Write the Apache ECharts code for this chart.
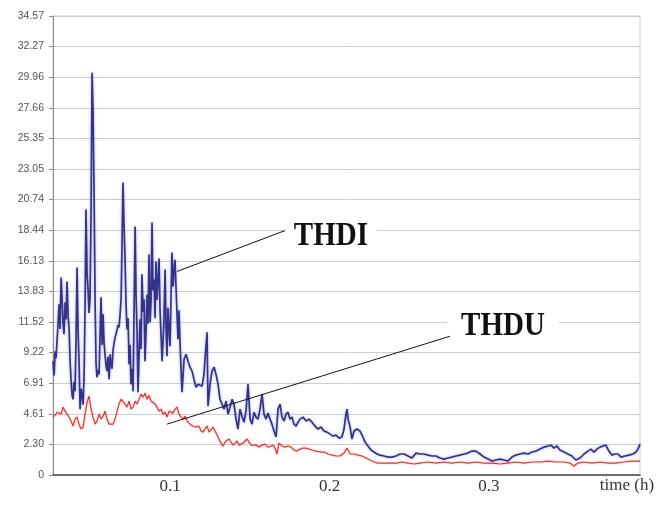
<!DOCTYPE html>
<html>
<head>
<meta charset="utf-8">
<script src="https://cdn.jsdelivr.net/npm/echarts@6/dist/echarts.min.js"></script>
<style>html,body{margin:0;padding:0;background:#fff}#c{width:668px;height:522px}</style>
</head>
<body>
<div id="c"></div>
<script>
// ---- data ----
const thdiTime = [0.0266,0.0273,0.0279,0.0285,0.0292,0.0298,0.0304,0.0310,0.0317,0.0323,0.0329,0.0335,0.0342,0.0348,0.0354,0.0361,0.0367,0.0373,0.0379,0.0386,0.0392,0.0398,0.0404,0.0411,0.0417,0.0423,0.0429,0.0436,0.0442,0.0448,0.0455,0.0461,0.0467,0.0473,0.0480,0.0486,0.0492,0.0498,0.0505,0.0511,0.0517,0.0524,0.0530,0.0536,0.0542,0.0549,0.0555,0.0561,0.0567,0.0574,0.0580,0.0586,0.0592,0.0599,0.0605,0.0611,0.0618,0.0624,0.0630,0.0636,0.0643,0.0649,0.0655,0.0661,0.0668,0.0674,0.0680,0.0686,0.0693,0.0699,0.0705,0.0711,0.0718,0.0724,0.0730,0.0737,0.0743,0.0749,0.0755,0.0762,0.0768,0.0774,0.0781,0.0787,0.0793,0.0799,0.0806,0.0812,0.0818,0.0824,0.0831,0.0837,0.0843,0.0850,0.0856,0.0862,0.0868,0.0875,0.0881,0.0887,0.0893,0.0900,0.0906,0.0912,0.0918,0.0925,0.0931,0.0937,0.0944,0.0950,0.0956,0.0962,0.0969,0.0975,0.0981,0.0987,0.0994,0.1000,0.1006,0.1012,0.1019,0.1025,0.1031,0.1038,0.1044,0.1050,0.1056,0.1063,0.1069,0.1075,0.1088,0.1100,0.1113,0.1125,0.1138,0.1150,0.1163,0.1176,0.1188,0.1201,0.1213,0.1219,0.1232,0.1238,0.1251,0.1263,0.1276,0.1288,0.1301,0.1313,0.1326,0.1339,0.1351,0.1364,0.1376,0.1389,0.1401,0.1414,0.1426,0.1439,0.1451,0.1464,0.1476,0.1489,0.1502,0.1514,0.1527,0.1539,0.1552,0.1564,0.1577,0.1589,0.1602,0.1614,0.1627,0.1639,0.1652,0.1665,0.1677,0.1690,0.1702,0.1715,0.1727,0.1740,0.1752,0.1765,0.1777,0.1790,0.1803,0.1815,0.1834,0.1853,0.1871,0.1890,0.1909,0.1928,0.1947,0.1965,0.1984,0.2003,0.2022,0.2041,0.2060,0.2078,0.2091,0.2103,0.2110,0.2116,0.2128,0.2141,0.2154,0.2172,0.2191,0.2204,0.2223,0.2241,0.2260,0.2279,0.2298,0.2317,0.2342,0.2367,0.2392,0.2417,0.2442,0.2467,0.2492,0.2517,0.2542,0.2567,0.2592,0.2618,0.2643,0.2668,0.2693,0.2718,0.2743,0.2768,0.2793,0.2818,0.2843,0.2868,0.2893,0.2918,0.2944,0.2969,0.2994,0.3019,0.3044,0.3069,0.3094,0.3119,0.3144,0.3169,0.3194,0.3219,0.3245,0.3270,0.3295,0.3320,0.3345,0.3370,0.3389,0.3408,0.3426,0.3445,0.3470,0.3495,0.3520,0.3545,0.3571,0.3596,0.3621,0.3639,0.3658,0.3677,0.3696,0.3715,0.3733,0.3752,0.3771,0.3790,0.3809,0.3828,0.3853,0.3878,0.3903,0.3922,0.3934,0.3947];
const thdiValues = [8.57,7.50,9.32,8.80,10.22,11.50,12.85,11.00,14.88,13.23,11.40,10.60,13.00,11.72,14.58,12.00,10.97,8.60,7.21,6.00,5.71,7.00,6.31,10.50,15.63,11.00,8.72,4.96,6.50,6.09,5.30,7.59,12.50,19.99,15.00,13.98,12.20,13.23,20.00,30.29,27.50,20.74,13.00,8.34,7.36,7.90,7.59,10.50,13.38,9.80,12.10,10.00,9.09,8.20,7.82,8.90,7.21,9.10,8.34,8.00,9.47,9.90,10.37,10.60,10.97,11.30,11.12,12.00,13.23,17.50,22.02,19.00,16.23,12.80,10.97,11.80,8.34,9.80,6.84,8.00,6.31,12.00,18.71,13.50,10.97,6.24,9.20,11.72,9.50,15.11,12.30,13.23,8.57,11.00,13.60,11.40,16.61,11.50,13.23,19.01,13.90,14.73,11.80,16.08,13.20,14.73,16.30,12.47,10.40,8.57,10.10,11.72,15.48,11.00,8.94,12.60,10.97,9.70,13.23,16.76,14.20,15.48,16.20,13.98,12.00,10.22,12.40,9.84,8.00,6.24,8.72,9.09,8.57,8.12,7.82,7.21,6.61,6.84,6.99,6.69,7.59,8.72,10.75,5.19,6.84,7.82,8.12,7.59,6.84,5.71,5.34,4.96,5.56,4.58,5.11,5.71,5.34,4.21,3.46,4.96,4.43,3.98,4.81,6.84,4.21,3.83,4.73,4.36,4.21,4.96,6.09,4.58,4.21,4.66,4.21,3.83,3.31,2.86,4.96,5.34,4.36,4.06,4.58,4.73,4.21,4.36,3.83,3.68,3.98,4.21,4.36,4.06,4.21,3.98,3.68,3.46,3.61,3.31,3.23,3.08,2.93,3.01,2.78,2.86,3.46,4.58,4.96,4.21,3.68,2.71,3.31,3.46,3.31,3.01,2.48,2.18,1.88,1.73,1.58,1.50,1.43,1.35,1.35,1.43,1.58,1.58,1.43,1.28,1.65,1.58,1.58,1.50,1.43,1.43,1.28,1.20,1.28,1.35,1.43,1.50,1.58,1.65,1.80,1.80,1.58,1.35,1.20,1.05,1.13,1.20,1.13,1.05,1.35,1.50,1.58,1.65,1.58,1.73,1.80,1.95,2.10,2.18,2.25,2.03,2.18,1.88,1.73,1.58,1.43,1.13,1.28,1.58,1.80,1.95,1.73,1.95,2.10,2.18,2.25,1.80,1.50,1.58,1.58,1.35,1.43,1.50,1.58,1.73,1.95,2.33];
const thduTime = [0.0266,0.0279,0.0292,0.0304,0.0317,0.0329,0.0342,0.0354,0.0367,0.0379,0.0392,0.0404,0.0417,0.0429,0.0442,0.0455,0.0467,0.0480,0.0492,0.0505,0.0517,0.0530,0.0542,0.0555,0.0567,0.0580,0.0592,0.0605,0.0618,0.0630,0.0643,0.0655,0.0668,0.0680,0.0693,0.0705,0.0718,0.0730,0.0743,0.0755,0.0768,0.0781,0.0793,0.0806,0.0818,0.0831,0.0843,0.0856,0.0868,0.0881,0.0893,0.0906,0.0918,0.0931,0.0944,0.0956,0.0969,0.0981,0.0994,0.1006,0.1019,0.1031,0.1044,0.1056,0.1069,0.1082,0.1094,0.1107,0.1119,0.1132,0.1144,0.1157,0.1169,0.1182,0.1194,0.1207,0.1219,0.1232,0.1245,0.1257,0.1270,0.1282,0.1295,0.1307,0.1320,0.1332,0.1345,0.1357,0.1370,0.1382,0.1395,0.1408,0.1420,0.1433,0.1445,0.1458,0.1470,0.1483,0.1495,0.1508,0.1520,0.1539,0.1558,0.1577,0.1596,0.1614,0.1633,0.1646,0.1658,0.1671,0.1683,0.1702,0.1721,0.1740,0.1759,0.1777,0.1796,0.1815,0.1834,0.1853,0.1871,0.1890,0.1915,0.1940,0.1965,0.1991,0.2016,0.2041,0.2066,0.2091,0.2110,0.2128,0.2154,0.2179,0.2204,0.2229,0.2254,0.2279,0.2304,0.2342,0.2379,0.2417,0.2455,0.2492,0.2530,0.2567,0.2618,0.2668,0.2718,0.2768,0.2818,0.2868,0.2918,0.2969,0.3019,0.3069,0.3119,0.3169,0.3219,0.3270,0.3320,0.3370,0.3420,0.3470,0.3508,0.3533,0.3558,0.3596,0.3646,0.3696,0.3746,0.3796,0.3846,0.3896,0.3947];
const thduValues = [4.36,4.51,4.73,4.58,4.58,5.11,4.81,4.96,4.36,4.06,3.68,4.21,4.36,3.83,3.46,3.61,4.58,5.49,5.94,4.96,4.36,3.83,4.06,4.58,4.21,4.43,4.81,4.21,3.83,3.68,3.83,4.21,4.81,5.34,5.71,5.86,5.34,5.11,5.56,4.96,5.11,5.56,5.34,5.71,6.09,5.86,6.16,5.71,6.01,5.56,5.71,5.34,5.11,4.81,4.96,4.58,4.73,4.36,4.81,4.96,4.66,4.96,5.11,4.58,4.36,4.21,4.43,4.06,3.91,3.76,3.83,3.61,3.46,3.68,3.31,3.23,3.46,3.68,3.23,3.08,3.61,3.31,3.01,2.71,2.40,2.18,2.48,2.63,2.71,2.56,2.25,2.40,2.56,2.25,2.10,2.40,2.56,2.71,2.48,2.25,2.18,2.25,2.10,2.25,2.33,2.10,2.18,2.25,2.03,1.58,2.40,2.18,2.10,2.18,2.10,1.88,1.80,1.95,2.03,2.03,1.95,1.88,1.80,1.73,1.73,1.58,1.50,1.43,1.43,1.65,2.03,1.58,1.58,1.50,1.43,1.28,1.13,0.98,0.90,0.90,0.90,0.90,0.98,0.90,0.83,0.90,0.98,0.90,0.98,0.90,0.98,0.90,0.98,0.90,0.90,0.83,0.90,0.98,0.90,0.98,0.98,1.05,0.98,0.98,0.90,0.68,0.90,0.98,0.90,0.98,0.90,0.90,0.98,1.05,1.05];
const seriesNames = ['THDI', 'THDU'];
const yTickLabels = ['0','2.30','4.61','6.91','9.22','11.52','13.83','16.13','18.44','20.74','23.05','25.35','27.66','29.96','32.27','34.57'];
const xTickValues = [0.1, 0.2, 0.3];
const xAxisTitle = 'time (h)';
const yMax = 34.57;
const xMin = 0.0266, xMax = 0.3947;

// ---- chart ----
const chart = echarts.init(document.getElementById('c'), null, {renderer: 'canvas'});
const pairs = (t, v) => t.map((x, i) => [x, v[i]]);

chart.setOption({
  animation: false,
  backgroundColor: '#ffffff',
  grid: {left: 53, right: 28, top: 16, bottom: 47, show: true, borderColor: '#cfcfcf', borderWidth: 1, backgroundColor: 'transparent'},
  xAxis: {
    type: 'value', min: xMin, max: xMax,
    axisLine: {show: true, onZero: false, lineStyle: {color: '#4a4a4a', width: 1.5}},
    axisTick: {show: false},
    splitLine: {show: false},
    axisLabel: {customValues: xTickValues, margin: 3, fontFamily: 'Liberation Serif', fontSize: 17, color: '#333',
      formatter: v => String(+v.toFixed(1))}
  },
  yAxis: {
    type: 'value', min: 0, max: yMax, interval: yMax / 15,
    axisLine: {show: true, lineStyle: {color: '#8a8a8a', width: 1}},
    axisTick: {show: true, length: 4, lineStyle: {color: '#8a8a8a'}},
    splitLine: {show: true, lineStyle: {color: '#cccccc', width: 1}},
    axisLabel: {margin: 9, fontFamily: 'Liberation Sans', fontSize: 10.5, color: '#555',
      formatter: (v, i) => yTickLabels[i] !== undefined ? yTickLabels[i] : ''}
  },
  series: [
    {name: seriesNames[0], type: 'line', data: pairs(thdiTime, thdiValues), showSymbol: false, smooth: false,
     lineStyle: {color: '#33338a', width: 1.7, shadowColor: 'rgba(110,110,210,0.55)', shadowBlur: 3}, z: 3},
    {name: seriesNames[1], type: 'line', data: pairs(thduTime, thduValues), showSymbol: false, smooth: false,
     lineStyle: {color: '#e8322e', width: 1.2, shadowColor: 'rgba(245,110,110,0.45)', shadowBlur: 2}, z: 4}
  ]
});

// ---- annotations (placed in data coordinates) ----
const annotations = [
  {text: seriesNames[0], from: [0.1044, 15.33], to: [0.1721, 18.41], at: [0.2009, 17.96], box: [92, 40]},
  {text: seriesNames[1], from: [0.0981, 3.83], to: [0.2755, 10.45], at: [0.3088, 11.20], box: [112, 46]}
];
const px = p => chart.convertToPixel({gridIndex: 0}, p);
const elements = [];
annotations.forEach(a => {
  const f = px(a.from), t = px(a.to), c = px(a.at);
  elements.push({type: 'rect', z: 10, shape: {x: c[0] - a.box[0] / 2, y: c[1] - a.box[1] / 2 - 1, width: a.box[0], height: a.box[1]}, style: {fill: '#ffffff'}});
  elements.push({type: 'line', z: 11, shape: {x1: f[0], y1: f[1], x2: t[0], y2: t[1]}, style: {stroke: '#111', lineWidth: 1}});
  elements.push({type: 'text', z: 12, x: c[0], y: c[1], scaleX: 0.88,
    style: {text: a.text, x: 0, y: 0, align: 'center', verticalAlign: 'middle', font: 'bold 33px "Liberation Serif"', fill: '#111'}});
});
const tPos = px([0.3865, 0]);
elements.push({type: 'text', z: 12, x: tPos[0], y: tPos[1] + 11,
  style: {text: xAxisTitle, x: 0, y: 0, align: 'center', verticalAlign: 'middle', font: '17px "Liberation Serif"', fill: '#333'}});
chart.setOption({graphic: {elements: elements}});
</script>
</body>
</html>
